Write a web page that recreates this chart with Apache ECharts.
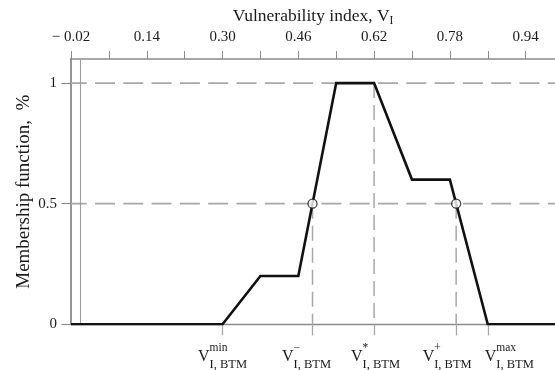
<!DOCTYPE html>
<html>
<head>
<meta charset="utf-8">
<script src="https://cdn.jsdelivr.net/npm/echarts@6/dist/echarts.min.js"></script>
<style>
html,body{margin:0;padding:0;background:#fff;}
#chart{width:555px;height:370px;}
</style>
</head>
<body>
<div id="chart"></div>
<script>
// ---- data ----
const xMin = -0.02;
const xMax = 1.002;
const yMin = 0;
const yMax = 1.1;
const curveX = [-0.02, 0.30, 0.38, 0.46, 0.54, 0.62, 0.70, 0.78, 0.86, 1.002];
const curveY = [0, 0, 0.2, 0.2, 1, 1, 0.6, 0.6, 0, 0];
const crossX = [0.49, 0.7933];
const crossY = [0.5, 0.5];
const gridYs = [0.5, 1];
const dropX = [0.49, 0.62, 0.7933];
const dropTop = [0.5, 1, 0.5];
const topTickValues = [-0.02, 0.06, 0.14, 0.22, 0.30, 0.38, 0.46, 0.54, 0.62, 0.70, 0.78, 0.86, 0.94];
const topLabelValues = [-0.02, 0.14, 0.30, 0.46, 0.62, 0.78, 0.94];
const yTickValues = [0, 0.5, 1];
const bottomValues = [0.30, 0.49, 0.62, 0.7933, 0.86];
const bottomSup = ['min', '\u2212', '*', '+', 'max'];
const bottomSub = 'I, BTM';
const xTitle = 'Vulnerability index, V';
const xTitleSub = 'I';
const yTitle = 'Membership function,  %';

// ---- chart ----
const serif = 'Liberation Serif';
const textColor = '#1a1a1a';
const axisGray = '#8a8a8a';
const dashGray = '#a8a8a8';

function zip(xs, ys) { return xs.map((x, i) => [x, ys[i]]); }

const series = [];
gridYs.forEach(y => {
  series.push({
    type: 'line', xAxisIndex: 0, yAxisIndex: 0, silent: true, symbol: 'none', z: 1,
    data: [[xMin, y], [xMax, y]],
    lineStyle: { color: dashGray, width: 1.8, type: [20, 8.3], dashOffset: 4.3 }
  });
});
dropX.forEach((x, i) => {
  series.push({
    type: 'line', xAxisIndex: 0, yAxisIndex: 0, silent: true, symbol: 'none', z: 1,
    data: [[x, dropTop[i]], [x, 0]],
    lineStyle: { color: dashGray, width: 1.5, type: [15, 7] }
  });
});
series.push({
  type: 'line', xAxisIndex: 0, yAxisIndex: 0, silent: true, symbol: 'none', z: 1,
  data: [[0, yMin], [0, yMax]],
  lineStyle: { color: '#9a9a9a', width: 1 }
});
series.push({
  type: 'line', xAxisIndex: 0, yAxisIndex: 0, silent: true, symbol: 'none', z: 3,
  data: zip(curveX, curveY),
  lineStyle: { color: '#111', width: 2.6, join: 'miter' }
});
series.push({
  type: 'scatter', xAxisIndex: 0, yAxisIndex: 0, silent: true, z: 4,
  symbol: 'circle', symbolSize: 9,
  data: zip(crossX, crossY),
  itemStyle: { color: '#fff', borderColor: '#111', borderWidth: 1.3 }
});

// bottom labels split over two axes so neighbouring labels are not hidden
const groupA = [0, 2, 4].map(i => bottomValues[i]);
const groupB = [1, 3].map(i => bottomValues[i]);
const leadPad = ['', '', 'l3', '', 'l43'];
const trailPad = ['', 't12', '', 't18', ''];
function bottomFormatter(v) {
  let idx = 0, best = Infinity;
  bottomValues.forEach((b, i) => { const d = Math.abs(b - v); if (d < best) { best = d; idx = i; } });
  const L = leadPad[idx] ? '{' + leadPad[idx] + '| }' : '';
  const T = trailPad[idx] ? '{' + trailPad[idx] + '| }' : '';
  // three stacked rows: superscript, base letter, subscript
  return L + '{g1|V}{p|' + bottomSup[idx] + '}' + T + '\n' +
         L + '{v|V}' + T + '\n' +
         L + '{g3|V}{b|' + bottomSub + '}' + T;
}
const bottomRich = {
  g1: { fontFamily: serif, fontSize: 16, color: 'rgba(0,0,0,0)', lineHeight: 4, align: 'left' },
  p: { fontFamily: serif, fontSize: 11.5, color: textColor, lineHeight: 4, align: 'left' },
  v: { fontFamily: serif, fontSize: 16, color: textColor, lineHeight: 12, align: 'left' },
  g3: { fontFamily: serif, fontSize: 16, color: 'rgba(0,0,0,0)', lineHeight: 5, align: 'left' },
  b: { fontFamily: serif, fontSize: 12.5, color: textColor, lineHeight: 5, align: 'left' },
  l3: { width: 3, lineHeight: 4, align: 'left' },
  l43: { width: 43, lineHeight: 4, align: 'left' },
  t12: { width: 12, lineHeight: 4, align: 'left' },
  t18: { width: 18, lineHeight: 4, align: 'left' }
};
function bottomAxis(vals, showLine) {
  return {
    type: 'value', position: 'bottom', min: xMin, max: xMax,
    axisLine: { show: showLine, onZero: false, lineStyle: { color: axisGray, width: 1.4 } },
    axisTick: { show: true, customValues: vals, length: 11, lineStyle: { color: dashGray, width: 1.3 } },
    axisLabel: { show: true, customValues: vals, margin: 22, formatter: bottomFormatter, rich: bottomRich },
    splitLine: { show: false }
  };
}

const chart = echarts.init(document.getElementById('chart'), null, { renderer: 'canvas' });
chart.setOption({
  animation: false,
  backgroundColor: '#fff',
  grid: { left: 71, right: 0, top: 59, bottom: 45.7, containLabel: false, outerBoundsMode: 'none' },
  xAxis: [
    {
      type: 'value', position: 'top', min: xMin, max: xMax,
      name: xTitle + '{s|' + xTitleSub + '}',
      nameLocation: 'middle', nameGap: 32, nameMoveOverlap: false,
      nameTextStyle: {
        fontFamily: serif, fontSize: 17.5, color: textColor,
        rich: { s: { fontFamily: serif, fontSize: 11.5, color: textColor, padding: [10, 0, 0, 0] } }
      },
      axisLine: { show: true, onZero: false, lineStyle: { color: axisGray, width: 1.6 } },
      axisTick: { show: true, customValues: topTickValues, length: 8, lineStyle: { color: axisGray, width: 1 } },
      axisLabel: {
        show: true, customValues: topLabelValues, margin: 14.5,
        fontFamily: serif, fontSize: 15, color: textColor,
        formatter: v => (v < 0 ? '\u2212 ' + Math.abs(v).toFixed(2) : v.toFixed(2))
      },
      splitLine: { show: false }
    },
    bottomAxis(groupA, true),
    bottomAxis(groupB, false)
  ],
  yAxis: [
    {
      type: 'value', position: 'left', min: yMin, max: yMax,
      name: yTitle, nameLocation: 'middle', nameGap: 37.5, nameRotate: 90, nameMoveOverlap: false,
      nameTextStyle: { fontFamily: serif, fontSize: 19, color: textColor },
      axisLine: { show: true, onZero: false, lineStyle: { color: axisGray, width: 1.8 } },
      axisTick: { show: true, customValues: yTickValues, length: 9.5, lineStyle: { color: axisGray, width: 1.2 } },
      axisLabel: {
        show: true, customValues: yTickValues, margin: 14,
        fontFamily: serif, fontSize: 15, color: textColor
      },
      splitLine: { show: false }
    }
  ],
  series: series
});
</script>
</body>
</html>
